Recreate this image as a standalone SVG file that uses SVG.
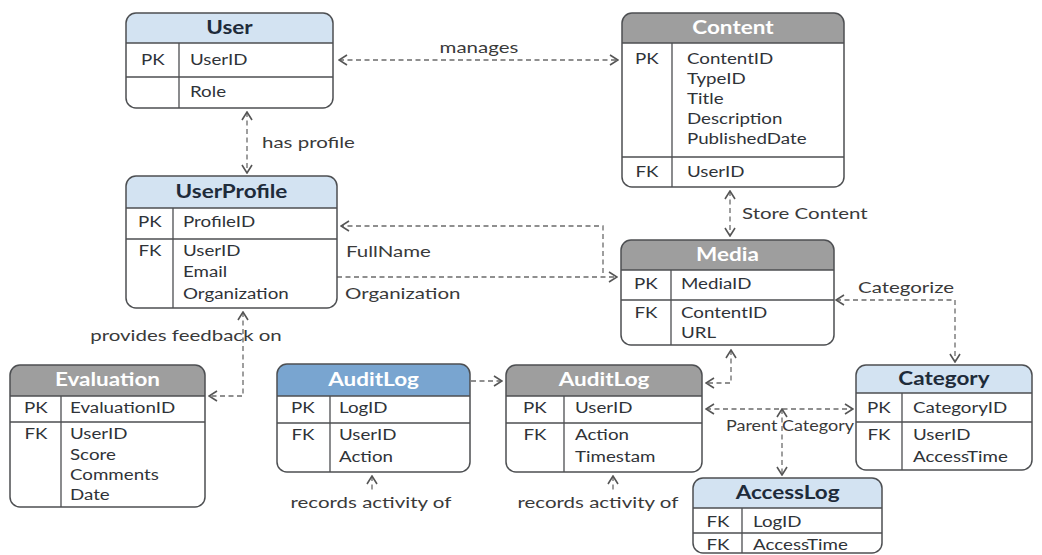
<svg xmlns="http://www.w3.org/2000/svg" width="1042" height="555" viewBox="0 0 1042 555">
  <defs>
    <style>
      text { font-family: Lato, "Open Sans", "Liberation Sans", sans-serif; fill: #2f3338; transform-box: fill-box; }
      .f { font-size: 15px; transform: scaleX(1.25); transform-origin: 0 50%; }
      .k { font-size: 15px; text-anchor: middle; transform: scaleX(1.25); transform-origin: 50% 50%; }
      .h { font-size: 18px; font-weight: bold; text-anchor: middle; transform: scaleX(1.25); transform-origin: 50% 50%; }
      .hw { fill: #ffffff; }
      .hd { fill: #1e2b3a; }
      .lbl { font-size: 16px; fill: #3a3a3a; transform: scaleX(1.28); transform-origin: 0 50%; }
      .lblc { font-size: 16px; fill: #3a3a3a; text-anchor: middle; transform: scaleX(1.28); transform-origin: 50% 50%; }
      .lbls { font-size: 15px; fill: #3a3a3a; text-anchor: middle; transform: scaleX(1.2); transform-origin: 50% 50%; }
      .box { fill: #ffffff; }
      .frame { fill: none; stroke: #4d4f52; stroke-width: 1.5; }
      .ln { stroke: #4d4f52; stroke-width: 1.3; fill: none; }
      .hl { fill: #d3e3f2; }
      .hg { fill: #9e9e9e; }
      .hb { fill: #79a5d0; }
      .conn { fill: none; stroke: #6b6b6b; stroke-width: 1.3; stroke-dasharray: 5 3.5; }
      .one { marker-end: url(#chev); }
      .two { marker-start: url(#chev); marker-end: url(#chev); }
    </style>
    <marker id="chev" viewBox="0 0 10 12" refX="9" refY="6" markerWidth="10" markerHeight="12" markerUnits="userSpaceOnUse" orient="auto-start-reverse">
      <path d="M1,1 L9,6 L1,11" fill="none" stroke="#555" stroke-width="1.6"/>
    </marker>
  </defs>

  <rect width="1042" height="555" fill="#ffffff"/>

  <!-- connectors -->
  <g id="connectors">
    <path class="conn two" d="M339,60 H618"/>
    <path class="conn two" d="M247,112 V173"/>
    <path class="conn one" d="M603,273 V226 H341"/>
    <path class="conn one" d="M337,277 H617"/>
    <path class="conn two" d="M730,191 V236"/>
    <path class="conn two" d="M836,300 H955 V362"/>
    <path class="conn two" d="M243,312 V396 H209"/>
    <path class="conn one" d="M471,381 H502"/>
    <path class="conn two" d="M731,350 V383 H706"/>
    <path class="conn two" d="M706,409 H853"/>
    <path class="conn two" d="M782,409 V475"/>
    <path class="conn" d="M372,476 V492" marker-start="url(#chev)"/>
    <path class="conn" d="M613,476 V492" marker-start="url(#chev)"/>

    <text class="lblc" x="479" y="53">manages</text>
    <text class="lbl" x="262" y="148">has profile</text>
    <text class="lbl" x="346" y="257">FullName</text>
    <text class="lbl" x="345" y="299">Organization</text>
    <text class="lbl" x="742" y="219">Store Content</text>
    <text class="lbl" x="858" y="293">Categorize</text>
    <text class="lblc" x="186" y="341">provides feedback on</text>
    <text class="lbls" x="790" y="431">Parent Category</text>
    <text class="lblc" x="371" y="508">records activity of</text>
    <text class="lblc" x="598" y="508">records activity of</text>
  </g>

  <!-- User -->
  <g id="user" transform="translate(126,13)">
    <rect class="box" width="207" height="95" rx="10"/>
    <path class="hl" d="M0,30 V10 A10,10 0 0 1 10,0 H197 A10,10 0 0 1 207,10 V30 Z"/>
    <path class="ln" d="M0,30 H207 M0,64 H207 M53,30 V95"/>
    <rect class="frame" width="207" height="95" rx="10"/>
    <text class="h hd" x="103.5" y="21">User</text>
    <text class="k" x="27" y="52">PK</text>
    <text class="f" x="64" y="52">UserID</text>
    <text class="f" x="64" y="84">Role</text>
  </g>

  <!-- Content -->
  <g id="content" transform="translate(622,13)">
    <rect class="box" width="222" height="174" rx="10"/>
    <path class="hg" d="M0,30 V10 A10,10 0 0 1 10,0 H212 A10,10 0 0 1 222,10 V30 Z"/>
    <path class="ln" d="M0,30 H222 M0,144 H222 M50,30 V174"/>
    <rect class="frame" width="222" height="174" rx="10"/>
    <text class="h hw" x="111" y="21">Content</text>
    <text class="k" x="25" y="51">PK</text>
    <text class="f" x="65" y="51">ContentID</text>
    <text class="f" x="65" y="71">TypeID</text>
    <text class="f" x="65" y="91">Title</text>
    <text class="f" x="65" y="111">Description</text>
    <text class="f" x="65" y="131">PublishedDate</text>
    <text class="k" x="25" y="164">FK</text>
    <text class="f" x="65" y="164">UserID</text>
  </g>

  <!-- UserProfile -->
  <g id="userprofile" transform="translate(126,176)">
    <rect class="box" width="211" height="132" rx="10"/>
    <path class="hl" d="M0,32 V10 A10,10 0 0 1 10,0 H201 A10,10 0 0 1 211,10 V32 Z"/>
    <path class="ln" d="M0,32 H211 M0,63 H211 M47,32 V132"/>
    <rect class="frame" width="211" height="132" rx="10"/>
    <text class="h hd" x="105.5" y="22">UserProfile</text>
    <text class="k" x="24" y="51">PK</text>
    <text class="f" x="57" y="51">ProfileID</text>
    <text class="k" x="24" y="80">FK</text>
    <text class="f" x="57" y="80">UserID</text>
    <text class="f" x="57" y="101">Email</text>
    <text class="f" x="57" y="123">Organization</text>
  </g>

  <!-- Media -->
  <g id="media" transform="translate(621,240)">
    <rect class="box" width="213" height="105" rx="10"/>
    <path class="hg" d="M0,30 V10 A10,10 0 0 1 10,0 H203 A10,10 0 0 1 213,10 V30 Z"/>
    <path class="ln" d="M0,30 H213 M0,60 H213 M50,30 V105"/>
    <rect class="frame" width="213" height="105" rx="10"/>
    <text class="h hw" x="106.5" y="21">Media</text>
    <text class="k" x="25" y="49">PK</text>
    <text class="f" x="60" y="49">MediaID</text>
    <text class="k" x="25" y="78">FK</text>
    <text class="f" x="60" y="78">ContentID</text>
    <text class="f" x="60" y="98">URL</text>
  </g>

  <!-- Evaluation -->
  <g id="evaluation" transform="translate(10,365)">
    <rect class="box" width="195" height="142" rx="10"/>
    <path class="hg" d="M0,31 V10 A10,10 0 0 1 10,0 H185 A10,10 0 0 1 195,10 V31 Z"/>
    <path class="ln" d="M0,31 H195 M0,57 H195 M51,31 V142"/>
    <rect class="frame" width="195" height="142" rx="10"/>
    <text class="h hw" x="97.5" y="21">Evaluation</text>
    <text class="k" x="26" y="48">PK</text>
    <text class="f" x="60" y="48">EvaluationID</text>
    <text class="k" x="26" y="74">FK</text>
    <text class="f" x="60" y="74">UserID</text>
    <text class="f" x="60" y="95">Score</text>
    <text class="f" x="60" y="115">Comments</text>
    <text class="f" x="60" y="135">Date</text>
  </g>

  <!-- AuditLog (blue) -->
  <g id="auditlog-a" transform="translate(277,364)">
    <rect class="box" width="193" height="108" rx="10"/>
    <path class="hb" d="M0,32 V10 A10,10 0 0 1 10,0 H183 A10,10 0 0 1 193,10 V32 Z"/>
    <path class="ln" d="M0,32 H193 M0,59 H193 M53,32 V108"/>
    <rect class="frame" width="193" height="108" rx="10"/>
    <text class="h hw" x="96.5" y="22">AuditLog</text>
    <text class="k" x="26" y="49">PK</text>
    <text class="f" x="62" y="49">LogID</text>
    <text class="k" x="26" y="76">FK</text>
    <text class="f" x="62" y="76">UserID</text>
    <text class="f" x="62" y="98">Action</text>
  </g>

  <!-- AuditLog (gray) -->
  <g id="auditlog-b" transform="translate(506,365)">
    <rect class="box" width="196" height="107" rx="10"/>
    <path class="hg" d="M0,31 V10 A10,10 0 0 1 10,0 H186 A10,10 0 0 1 196,10 V31 Z"/>
    <path class="ln" d="M0,31 H196 M0,58 H196 M58,31 V107"/>
    <rect class="frame" width="196" height="107" rx="10"/>
    <text class="h hw" x="98" y="21">AuditLog</text>
    <text class="k" x="29" y="48">PK</text>
    <text class="f" x="69" y="48">UserID</text>
    <text class="k" x="29" y="75">FK</text>
    <text class="f" x="69" y="75">Action</text>
    <text class="f" x="69" y="97">Timestam</text>
  </g>

  <!-- Category -->
  <g id="category" transform="translate(856,365)">
    <rect class="box" width="176" height="105" rx="10"/>
    <path class="hl" d="M0,28 V10 A10,10 0 0 1 10,0 H166 A10,10 0 0 1 176,10 V28 Z"/>
    <path class="ln" d="M0,28 H176 M0,57 H176 M46,28 V105"/>
    <rect class="frame" width="176" height="105" rx="10"/>
    <text class="h hd" x="88" y="20">Category</text>
    <text class="k" x="23" y="48">PK</text>
    <text class="f" x="57" y="48">CategoryID</text>
    <text class="k" x="23" y="75">FK</text>
    <text class="f" x="57" y="75">UserID</text>
    <text class="f" x="57" y="97">AccessTime</text>
  </g>

  <!-- AccessLog -->
  <g id="accesslog" transform="translate(693,478)">
    <rect class="box" width="189" height="75" rx="10"/>
    <path class="hl" d="M0,30 V10 A10,10 0 0 1 10,0 H179 A10,10 0 0 1 189,10 V30 Z"/>
    <path class="ln" d="M0,30 H189 M0,55 H189 M49,30 V75"/>
    <rect class="frame" width="189" height="75" rx="10"/>
    <text class="h hd" x="94.5" y="21">AccessLog</text>
    <text class="k" x="25" y="49">FK</text>
    <text class="f" x="60" y="49">LogID</text>
    <text class="k" x="25" y="72">FK</text>
    <text class="f" x="60" y="72">AccessTime</text>
  </g>
</svg>
